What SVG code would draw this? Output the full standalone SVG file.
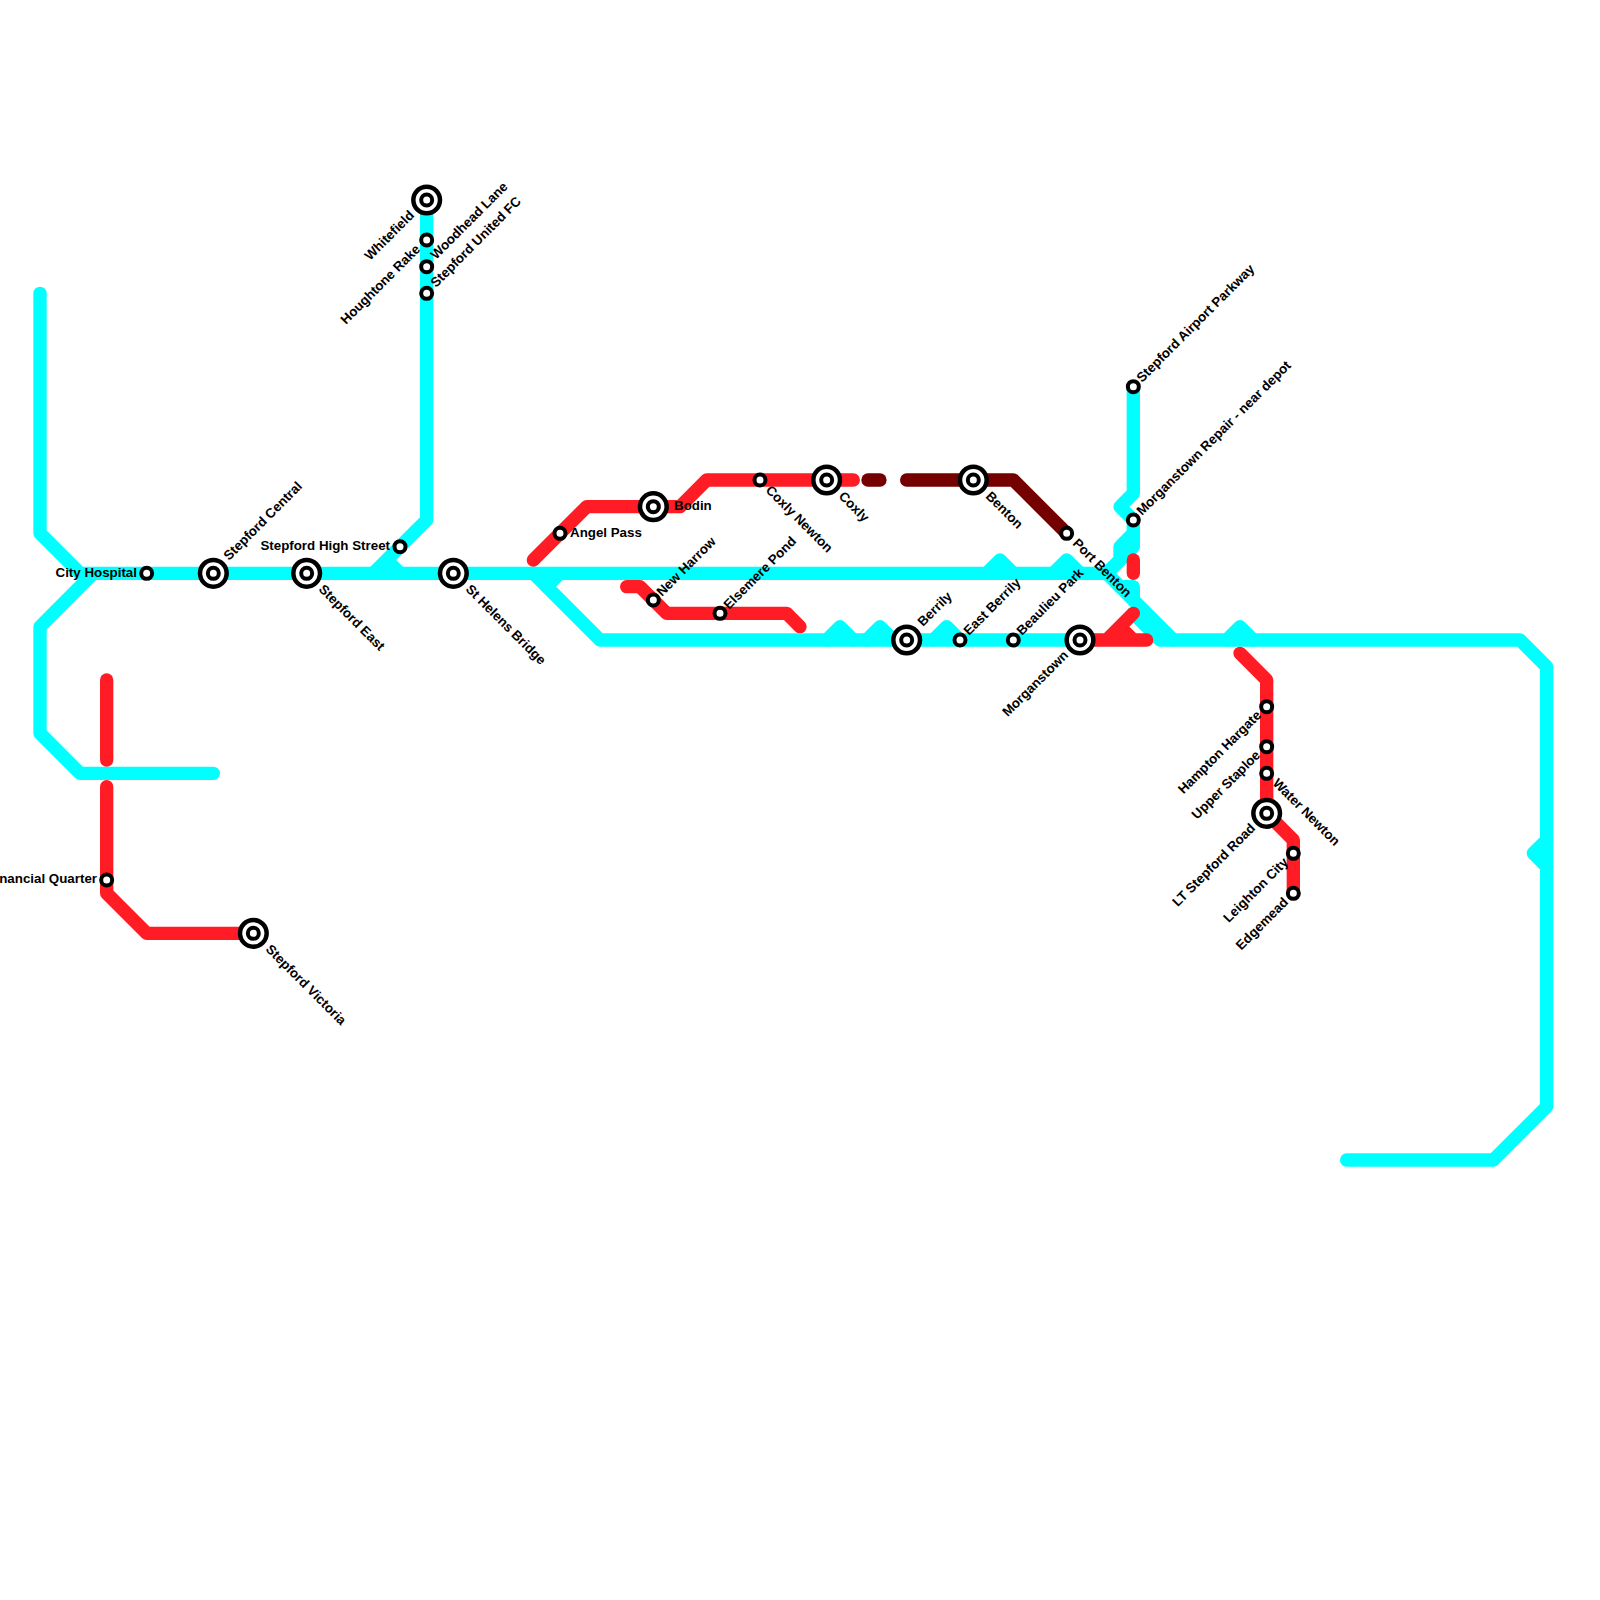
<svg xmlns="http://www.w3.org/2000/svg" width="1600" height="1600" viewBox="0 0 1600 1600">
<style>
.l{fill:none;stroke-width:13.33;stroke-linecap:round;stroke-linejoin:round}
.c{stroke:#00ffff}.r{stroke:#ff1c24}.d{stroke:#750000}
.s{fill:#fff;stroke:#000;stroke-width:4}
.o{fill:#fff;stroke:#000;stroke-width:4.5}
text{font-family:"Liberation Sans",Arial,sans-serif;font-weight:700;font-size:13.33px;fill:#000}
.e{text-anchor:end}
</style>
<defs>
<g id="st"><circle class="s" r="5.5"/></g>
<g id="ic"><circle class="o" r="13.33"/><circle class="s" r="5.5"/></g>
</defs>
<g id="connectors">
<path class="l c" d="M40 293.33V533.33L80 573.33H1106.67L1173.33 640H1520L1546.67 666.67V1106.67L1493.33 1160H1346.67"/>
<path class="l c" d="M93.33 573.33L40 626.67V733.33L80 773.33H213.33"/>
<path class="l c" d="M426.67 200V520L373.33 573.33M386.67 560L400 573.33"/>
<path class="l c" d="M533.33 573.33L600 640H1093"/>
<path class="l c" d="M560 573.33L546.67 586.67"/>
<path class="l c" d="M986.67 573.33L1000 560L1013.33 573.33M1053.33 573.33L1066.67 560L1080 573.33"/>
<path class="l c" d="M826.67 640L840 626.67L853.33 640M866.67 640L880 626.67L893.33 640M933.33 640L946.67 626.67L960 640M1226.67 640L1240 626.67L1253.33 640"/>
<path class="l c" d="M1133.33 386.67V493.33L1120 506.67L1133.33 520V546.67L1106.67 573.33"/>
<path class="l c" d="M1133.33 533.33L1120 546.67V560L1106.67 573.33"/>
<path class="l c" d="M1120 586.67H1133.33V600"/>
<path class="l c" d="M1133.33 613.33L1160 640H1173.33"/>
<path class="l c" d="M1546.67 840L1533.33 853.33L1546.67 866.67"/>
<path class="l r" d="M106.67 680V760"/>
<path class="l r" d="M106.67 786.67V893.33L146.67 933.33H253.33"/>
<path class="l r" d="M533.33 560L586.67 506.67H680L706.67 480H853.33"/>
<path class="l r" d="M626.67 586.67H640L666.67 613.33H786.67L800 626.67"/>
<path class="l r" d="M1133.33 560V573.33"/>
<path class="l r" d="M1080 640H1146.67M1133.33 613.33L1106.67 640M1120 626.67L1133.33 640"/>
<path class="l r" d="M1240 653.33L1266.67 680V813.33L1293.33 840V893.33"/>
<path class="l d" d="M868 480H880"/>
<path class="l d" d="M906.67 480H1013.33L1066.67 533.33"/>
</g>
<g id="whitefield"><use href="#ic" x="426.67" y="200"/><text class="e" transform="translate(415 216) rotate(-45)">Whitefield</text></g>
<g id="woodhead-lane"><use href="#st" x="426.67" y="240"/><text transform="translate(436 260) rotate(-45)">Woodhead Lane</text></g>
<g id="houghtone-rake"><use href="#st" x="426.67" y="266.67"/><text class="e" transform="translate(421 250) rotate(-45)">Houghtone Rake</text></g>
<g id="stepford-united-fc"><use href="#st" x="426.67" y="293.33"/><text transform="translate(436 288) rotate(-45)">Stepford United FC</text></g>
<g id="city-hospital"><use href="#st" x="146.67" y="573.33"/><text class="e" x="137" y="577">City Hospital</text></g>
<g id="stepford-central"><use href="#ic" x="213.33" y="573.33"/><text transform="translate(229 561) rotate(-45)">Stepford Central</text></g>
<g id="stepford-east"><use href="#ic" x="306.67" y="573.33"/><text transform="translate(318 590) rotate(45)">Stepford East</text></g>
<g id="stepford-high-street"><use href="#st" x="400" y="546.67"/><text class="e" x="390" y="550">Stepford High Street</text></g>
<g id="st-helens-bridge"><use href="#ic" x="453.33" y="573.33"/><text transform="translate(465 590) rotate(45)">St Helens Bridge</text></g>
<g id="angel-pass"><use href="#st" x="560" y="533.33"/><text x="570" y="537">Angel Pass</text></g>
<g id="bodin"><use href="#ic" x="653.33" y="506.67"/><text x="674" y="510">Bodin</text></g>
<g id="coxly-newton"><use href="#st" x="760" y="480"/><text transform="translate(765 491) rotate(45)">Coxly Newton</text></g>
<g id="coxly"><use href="#ic" x="826.67" y="480"/><text transform="translate(838 497) rotate(45)">Coxly</text></g>
<g id="new-harrow"><use href="#st" x="653.33" y="600"/><text transform="translate(662 597) rotate(-45)">New Harrow</text></g>
<g id="elsemere-pond"><use href="#st" x="720" y="613.33"/><text transform="translate(729 610) rotate(-45)">Elsemere Pond</text></g>
<g id="benton"><use href="#ic" x="973.33" y="480"/><text transform="translate(985 497) rotate(45)">Benton</text></g>
<g id="port-benton"><use href="#st" x="1066.67" y="533.33"/><text transform="translate(1072 544) rotate(45)">Port Benton</text></g>
<g id="berrily"><use href="#ic" x="906.67" y="640"/><text transform="translate(923 627) rotate(-45)">Berrily</text></g>
<g id="east-berrily"><use href="#st" x="960" y="640"/><text transform="translate(969 636) rotate(-45)">East Berrily</text></g>
<g id="beaulieu-park"><use href="#st" x="1013.33" y="640"/><text transform="translate(1022 636) rotate(-45)">Beaulieu Park</text></g>
<g id="morganstown"><use href="#ic" x="1080" y="640"/><text class="e" transform="translate(1069 656) rotate(-45)">Morganstown</text></g>
<g id="stepford-airport-parkway"><use href="#st" x="1133.33" y="386.67"/><text transform="translate(1142 383) rotate(-45)">Stepford Airport Parkway</text></g>
<g id="morganstown-repair"><use href="#st" x="1133.33" y="520"/><text transform="translate(1142 516) rotate(-45)">Morganstown Repair - near depot</text></g>
<g id="hampton-hargate"><use href="#st" x="1266.67" y="706.67"/><text class="e" transform="translate(1262 716) rotate(-45)">Hampton Hargate</text></g>
<g id="upper-staploe"><use href="#st" x="1266.67" y="746.67"/><text class="e" transform="translate(1261 756) rotate(-45)">Upper Staploe</text></g>
<g id="water-newton"><use href="#st" x="1266.67" y="773.33"/><text transform="translate(1272 784) rotate(45)">Water Newton</text></g>
<g id="lt-stepford-road"><use href="#ic" x="1266.67" y="813.33"/><text class="e" transform="translate(1256 829) rotate(-45)">LT Stepford Road</text></g>
<g id="leighton-city"><use href="#st" x="1293.33" y="853.33"/><text class="e" transform="translate(1289 863) rotate(-45)">Leighton City</text></g>
<g id="edgemead"><use href="#st" x="1293.33" y="893.33"/><text class="e" transform="translate(1289 903) rotate(-45)">Edgemead</text></g>
<g id="financial-quarter"><use href="#st" x="106.67" y="880"/><text class="e" x="97" y="883">Financial Quarter</text></g>
<g id="stepford-victoria"><use href="#ic" x="253.33" y="933.33"/><text transform="translate(265 950) rotate(45)">Stepford Victoria</text></g>
</svg>
